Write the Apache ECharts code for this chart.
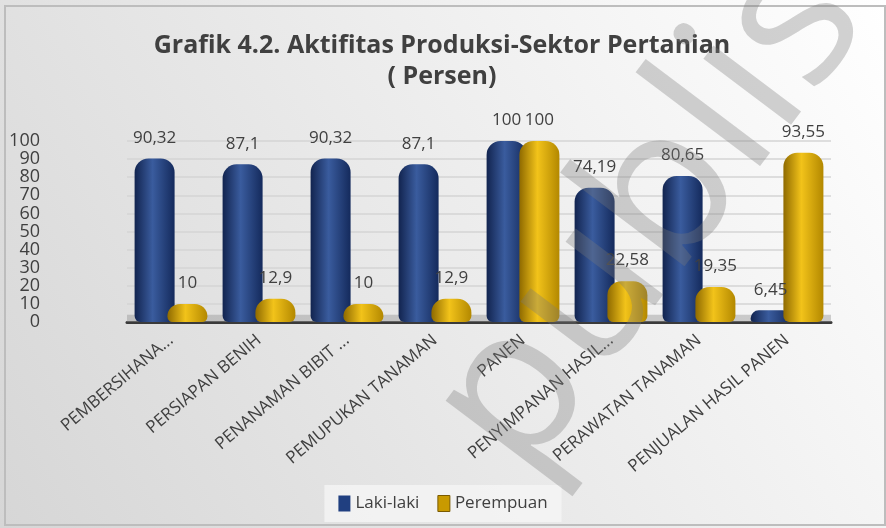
<!DOCTYPE html>
<html>
<head>
<meta charset="utf-8">
<script src="https://cdn.jsdelivr.net/npm/echarts@6/dist/echarts.min.js"></script>
<style>
  html, body { margin: 0; padding: 0; }
  #main { width: 886px; height: 528px; }
</style>
</head>
<body>
<div id="main"></div>
<script>
// data
var categories = ['PEMBERSIHANA...', 'PERSIAPAN BENIH', 'PENANAMAN BIBIT ...', 'PEMUPUKAN TANAMAN',
  'PANEN', 'PENYIMPANAN HASIL...', 'PERAWATAN TANAMAN', 'PENJUALAN HASIL PANEN'];
var lakiLaki = [90.32, 87.1, 90.32, 87.1, 100, 74.19, 80.65, 6.45];
var perempuan = [10, 12.9, 10, 12.9, 100, 22.58, 19.35, 93.55];
var seriesNames = ['Laki-laki', 'Perempuan'];

var txt = '#404040';
var font = '"Open Sans", sans-serif';

function cyl(c0, c1, c2) {
  return new echarts.graphic.LinearGradient(0, 0, 1, 0, [
    { offset: 0, color: c0 }, { offset: 0.45, color: c1 }, { offset: 1, color: c2 }
  ]);
}
function fmt(p) { return String(p.value).replace('.', ','); }

var myChart = echarts.init(document.getElementById('main'));

var option = {
  backgroundColor: new echarts.graphic.LinearGradient(1, 0, 0, 1, [
    { offset: 0, color: '#ffffff' }, { offset: 1, color: '#d6d6d6' }
  ]),
  title: {
    text: 'Grafik 4.2. Aktifitas Produksi-Sektor Pertanian\n( Persen)',
    left: 437, top: 25, textAlign: 'center',
    textStyle: { fontFamily: font, fontSize: 25, fontWeight: 'bold', color: txt, lineHeight: 31 }
  },
  legend: {
    bottom: 6, left: 'center',
    itemWidth: 12, itemHeight: 16, itemGap: 18,
    backgroundColor: 'rgba(245,245,245,0.8)', padding: [10, 14],
    textStyle: { fontFamily: font, fontSize: 17, color: txt },
    data: [
      { name: seriesNames[0], icon: 'rect', itemStyle: { color: '#203f80' } },
      { name: seriesNames[1], icon: 'rect', itemStyle: { color: '#c99a00', borderColor: '#7a5a00', borderWidth: 1 } }
    ]
  },
  grid: { left: 127, right: 55, top: 141, bottom: 206 },
  xAxis: {
    type: 'category', data: categories,
    axisLine: { lineStyle: { color: '#3a3a3a', width: 3 } },
    axisTick: { show: false },
    axisLabel: { interval: 0, rotate: 40, margin: 16, fontFamily: font, fontSize: 17, color: txt }
  },
  yAxis: {
    type: 'value', min: 0, max: 100, interval: 10,
    axisLine: { show: false }, axisTick: { show: false },
    axisLabel: { margin: 87, fontFamily: font, fontSize: 18, color: txt },
    splitLine: { lineStyle: { color: '#d4d4d4', width: 1.5 } }
  },
  series: [
    {
      name: seriesNames[0], type: 'bar', data: lakiLaki,
      barWidth: 40, barGap: '-18%',
      itemStyle: { color: cyl('#12244f', '#3a5c9e', '#142a5c'), borderRadius: [14, 14, 6, 6] },
      label: { show: true, position: 'top', distance: 12, formatter: fmt, fontFamily: font, fontSize: 17, color: txt },
      markArea: {
        silent: true,
        itemStyle: { color: 'rgba(150,150,150,0.45)' },
        data: [[{ yAxis: 0 }, { yAxis: 4 }]]
      }
    },
    {
      name: seriesNames[1], type: 'bar', data: perempuan,
      barWidth: 40,
      itemStyle: { color: cyl('#8f6a00', '#f2c31a', '#b38800'), borderRadius: [14, 14, 6, 6] },
      label: { show: true, position: 'top', distance: 12, formatter: fmt, fontFamily: font, fontSize: 17, color: txt }
    }
  ],
  graphic: [
    {
      type: 'rect', silent: true, z: 100,
      shape: { x: 5, y: 6, width: 880, height: 519 },
      style: { fill: 'none', stroke: '#bdbdbd', lineWidth: 2 }
    },
    {
      type: 'text', silent: true, z: 100,
      x: 650, y: 215, rotation: 53 * Math.PI / 180,
      style: {
        text: 'publis', fontFamily: font, fontSize: 205,
        fill: 'rgba(120,120,120,0.33)', align: 'center', verticalAlign: 'middle'
      }
    }
  ]
};

myChart.setOption(option);
</script>
</body>
</html>
